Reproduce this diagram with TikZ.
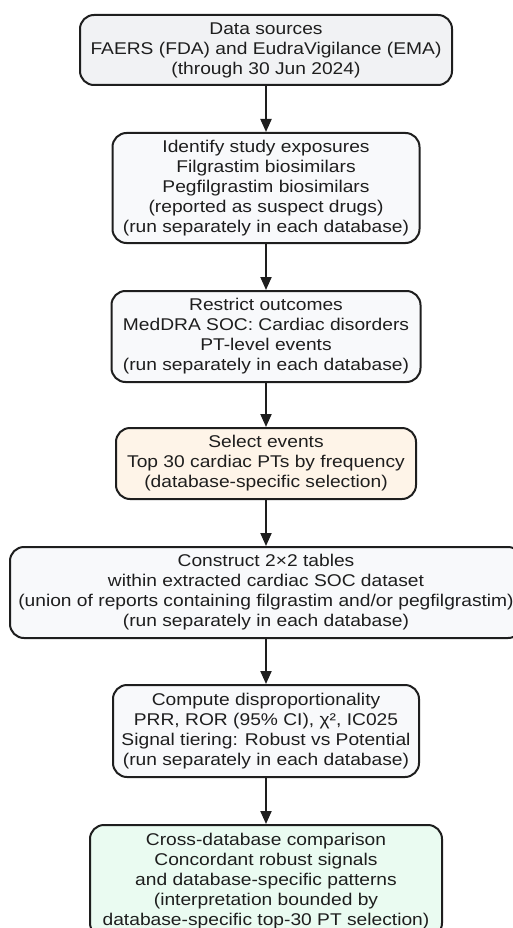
\documentclass[tikz,border=0pt]{standalone}
\usepackage{fontspec}
\setmainfont[FakeStretch=1.13]{Liberation Sans}
\usetikzlibrary{arrows.meta}
\definecolor{BoxLine}{RGB}{30,30,30}
\definecolor{SourceGray}{RGB}{241,242,244}
\definecolor{StepWhite}{RGB}{248,249,251}
\definecolor{SelectPeach}{RGB}{254,244,232}
\definecolor{ResultMint}{RGB}{234,251,241}

\begin{document}
\begin{tikzpicture}[x=1pt,y=-1pt,
  stage/.style={draw=BoxLine,line width=2pt,rounded corners=14pt,align=center,
    inner sep=0pt,fill=StepWhite,text=BoxLine,font=\fontsize{17}{20}\selectfont},
  flow/.style={draw=BoxLine,line width=2pt,-{Triangle[length=13pt,width=11pt]}}]
  \useasboundingbox (0,0) rectangle (513,928);
  \node[stage,fill=SourceGray,minimum width=372pt,minimum height=70pt] (sources) at (266,50)
    {Data sources\\FAERS (FDA) and EudraVigilance (EMA)\\(through 30 Jun 2024)};
  \node[stage,minimum width=307pt,minimum height=110pt] (exposures) at (266,188)
    {Identify study exposures\\Filgrastim biosimilars\\Pegfilgrastim biosimilars\\(reported as suspect drugs)\\(run separately in each database)};
  \node[stage,minimum width=309pt,minimum height=91pt] (outcomes) at (266,336.5)
    {Restrict outcomes\\MedDRA SOC: Cardiac disorders\\PT-level events\\(run separately in each database)};
  \node[stage,fill=SelectPeach,minimum width=300pt,minimum height=71pt] (select) at (266,463.5)
    {Select events\\Top 30 cardiac PTs by frequency\\(database-specific selection)};
  \node[stage,minimum width=512pt,minimum height=91pt] (tables) at (266,592.5)
    {Construct 2×2 tables\\within extracted cardiac SOC dataset\\(union of reports containing filgrastim and/or pegfilgrastim)\\(run separately in each database)};
  \node[stage,minimum width=306pt,minimum height=92pt] (dispro) at (266,731)
    {Compute disproportionality\\PRR, ROR (95\% CI), χ², IC025\\Signal tiering: Robust vs Potential\\(run separately in each database)};
  \node[stage,fill=ResultMint,minimum width=352pt,minimum height=112pt] (compare) at (266,881)
    {Cross-database comparison\\Concordant robust signals\\and database-specific patterns\\(interpretation bounded by\\database-specific top-30 PT selection)};
  % connectors
  \draw[flow] (sources) -- (exposures);
  \draw[flow] (exposures) -- (outcomes);
  \draw[flow] (outcomes) -- (select);
  \draw[flow] (select) -- (tables);
  \draw[flow] (tables) -- (dispro);
  \draw[flow] (dispro) -- (compare);
\end{tikzpicture}
\end{document}
